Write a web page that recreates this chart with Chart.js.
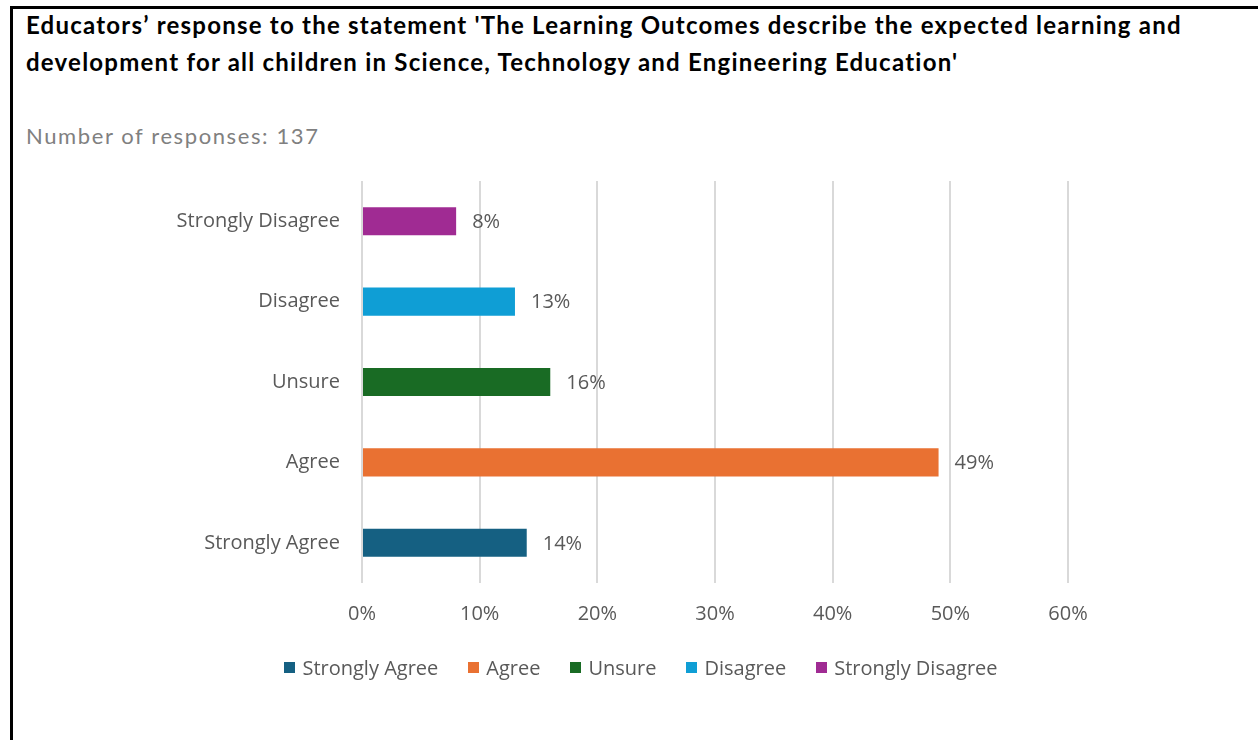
<!DOCTYPE html>
<html>
<head>
<meta charset="utf-8">
<script src="https://cdn.jsdelivr.net/npm/chart.js@4/dist/chart.umd.min.js"></script>
<style>
  html, body { margin: 0; padding: 0; background: #fff; }
  body { width: 1258px; height: 740px; position: relative; overflow: hidden; }
  .frame {
    position: absolute; left: 10px; top: 6px; right: -10px; bottom: -10px;
    border-left: 3px solid #000; border-top: 3px solid #000;
  }
  .title {
    position: absolute; left: 26px; top: 6px;
    font-family: Lato, "Liberation Sans", sans-serif; font-weight: 700;
    font-size: 24px; line-height: 37px; letter-spacing: 1.23px;
    color: #000; white-space: nowrap;
  }
  .subtitle {
    position: absolute; left: 26px; top: 121px;
    font-family: Lato, "Liberation Sans", sans-serif;
    font-size: 22px; line-height: 30px; letter-spacing: 1.6px;
    color: #808080; white-space: nowrap;
  }
  #chart { position: absolute; left: 0; top: 0; }
  .legend {
    position: absolute; left: 0; width: 1282px; top: 654px; height: 26px;
    display: flex; justify-content: center; align-items: center;
    font-family: "Open Sans", sans-serif; font-size: 20px; color: #595959;
  }
  .legend .item { display: flex; align-items: center; margin: 0 15px; white-space: nowrap; }
  .legend .swatch { width: 11px; height: 11px; margin-right: 7px; }
</style>
</head>
<body>
<div class="frame"></div>
<div class="title">Educators’ response to the statement 'The Learning Outcomes describe the expected learning and<br>development for all children in Science, Technology and Engineering Education'</div>
<div class="subtitle">Number of responses: 137</div>
<canvas id="chart" width="1258" height="740"></canvas>
<div class="legend" id="legend"></div>
<script>
// Survey answers, in legend order (bottom bar first)
const categories = ['Strongly Agree', 'Agree', 'Unsure', 'Disagree', 'Strongly Disagree'];
// Share of responses, percent
const shares = [14, 49, 16, 13, 8];
const barColors = ['#156082', '#E97132', '#196B24', '#0F9ED5', '#A02B93'];
const axisTicks = [0, 10, 20, 30, 40, 50, 60];

const FONT = '"Open Sans", Roboto, sans-serif';
const TEXT = '#595959';

// One series per answer so each gets its own legend entry
const datasets = categories.map((name, i) => ({
  label: name,
  data: categories.map((_, j) => (j === i ? shares[i] : null)),
  backgroundColor: barColors[i],
  borderWidth: 0,
  barPercentage: 0.35,
  categoryPercentage: 1.0
}));

// Value labels just past the end of each bar
const valueLabels = {
  id: 'valueLabels',
  afterDatasetsDraw(chart) {
    const ctx = chart.ctx;
    ctx.save();
    ctx.font = '20px ' + FONT;
    ctx.fillStyle = TEXT;
    ctx.textAlign = 'left';
    ctx.textBaseline = 'middle';
    chart.data.datasets.forEach((ds, di) => {
      const meta = chart.getDatasetMeta(di);
      meta.data.forEach((bar, idx) => {
        const v = ds.data[idx];
        if (v === null || v === undefined) return;
        ctx.fillText(v + '%', bar.x + 16, bar.y + 1);
      });
    });
    ctx.restore();
  }
};

const chart = new Chart(document.getElementById('chart'), {
  type: 'bar',
  data: { labels: categories, datasets },
  options: {
    indexAxis: 'y',
    responsive: false,
    animation: false,
    layout: { padding: { left: 12, right: 190, top: 181, bottom: 97 } },
    scales: {
      x: {
        stacked: true,
        min: 0,
        max: 60,
        afterBuildTicks(scale) { scale.ticks = axisTicks.map(v => ({ value: v })); },
        afterFit(scale) { scale.height = 60; },
        grid: { color: '#d9d9d9', lineWidth: 2, drawTicks: false },
        border: { display: false },
        ticks: {
          padding: 19,
          color: TEXT,
          font: { family: FONT, size: 20 },
          callback: v => v + '%'
        }
      },
      y: {
        stacked: true,
        reverse: true,
        afterFit(scale) { scale.width = 350; },
        grid: { display: false },
        border: { display: false },
        ticks: {
          padding: 14,
          color: TEXT,
          font: { family: FONT, size: 20 }
        }
      }
    },
    plugins: {
      legend: { display: false },
      tooltip: { enabled: false }
    }
  },
  plugins: [valueLabels]
});

// Legend row built from the same series
const legendEl = document.getElementById('legend');
chart.data.datasets.forEach(ds => {
  const item = document.createElement('div');
  item.className = 'item';
  const sw = document.createElement('span');
  sw.className = 'swatch';
  sw.style.background = ds.backgroundColor;
  const txt = document.createElement('span');
  txt.textContent = ds.label;
  item.appendChild(sw);
  item.appendChild(txt);
  legendEl.appendChild(item);
});
</script>
</body>
</html>
